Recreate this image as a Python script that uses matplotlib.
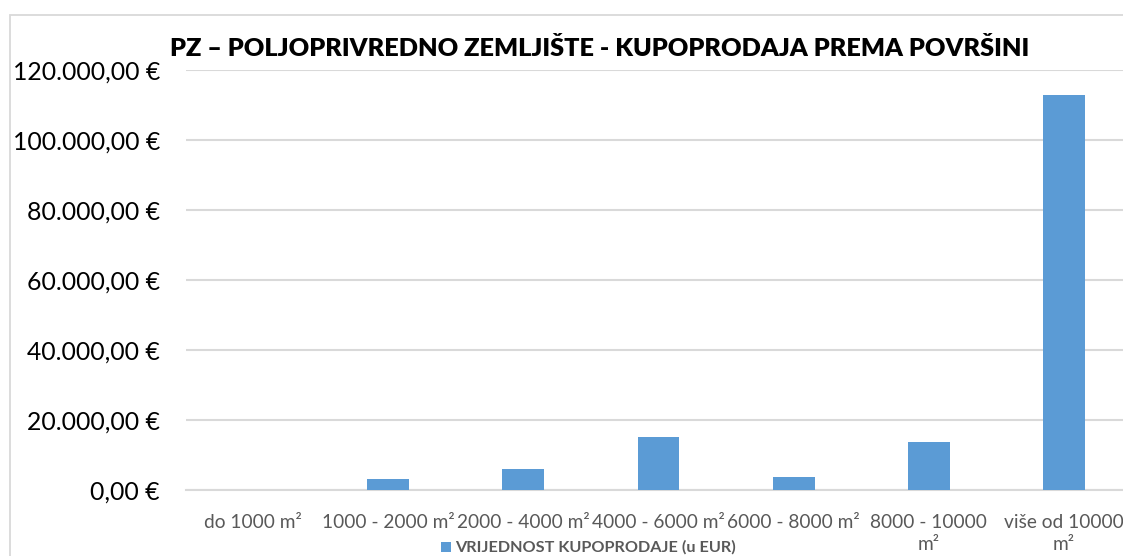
import matplotlib
matplotlib.use("Agg")
import matplotlib.pyplot as plt
from matplotlib.patches import Rectangle
from matplotlib.ticker import FuncFormatter

categories = ["do 1000 m²", "1000 - 2000 m²", "2000 - 4000 m²", "4000 - 6000 m²",
              "6000 - 8000 m²", "8000 - 10000\nm²", "više od 10000\nm²"]
values = [0, 3150, 6100, 15050, 3700, 13650, 112900]
yticks = [0, 20000, 40000, 60000, 80000, 100000, 120000]
title = "PZ – POLJOPRIVREDNO ZEMLJIŠTE - KUPOPRODAJA PREMA POVRŠINI"
legend_label = "VRIJEDNOST KUPOPRODAJE (u EUR)"

W, H = 1123, 556
fig = plt.figure(figsize=(W / 100, H / 100), dpi=100)
plt.rcParams['font.family'] = ['Lato', 'DejaVu Sans']

# chart border
fig.add_artist(Rectangle((9.5 / W, -0.1), 1.2, (H - 14.5) / H + 0.1, transform=fig.transFigure,
                         fill=False, edgecolor='#D9D9D9', linewidth=1.3))

left, right = 185.5, 1131.5
bottom, top = 490, 70
ax = fig.add_axes([left / W, 1 - bottom / H, (right - left) / W, (bottom - top) / H])
x = range(len(categories))
ax.bar(x, values, width=0.31, color='#5B9BD5', zorder=3, label=legend_label)
ax.set_xlim(-0.5, len(categories) - 0.5)
ax.set_ylim(0, 120000)
ax.set_yticks(yticks)

def fmt(v, pos):
    s = f"{v:,.2f}".replace(",", "X").replace(".", ",").replace("X", ".")
    return s + " €"

ax.yaxis.set_major_formatter(FuncFormatter(fmt))
ax.set_xticks(list(x))
ax.set_xticklabels(categories, fontsize=13.8, color='#595959', linespacing=1.35, va='top')
ax.tick_params(axis='x', length=0, pad=17)
ax.tick_params(axis='y', length=0, labelsize=17.8, pad=18.5, labelcolor='#000000')
ax.grid(axis='y', color='#D9D9D9', linewidth=1.5, zorder=0)
ax.set_axisbelow(True)
for s in ax.spines.values():
    s.set_visible(False)
ax.spines['bottom'].set_visible(True)
ax.spines['bottom'].set_color('#D9D9D9')
ax.spines['bottom'].set_linewidth(1.5)

fig.text(600 / W, 1 - 48 / H, title, ha='center', va='center', fontsize=18.2,
         fontweight='heavy', color='#000000')

# legend
fig.add_artist(Rectangle((441 / W, 1 - 552 / H), 10 / W, 10 / H, transform=fig.transFigure,
                         facecolor='#5B9BD5', edgecolor='none'))
fig.text(455 / W, 1 - 547.5 / H, legend_label, ha='left', va='center', fontsize=11.7,
         fontweight='bold', color='#595959')

fig.savefig("out.png", dpi=100)
